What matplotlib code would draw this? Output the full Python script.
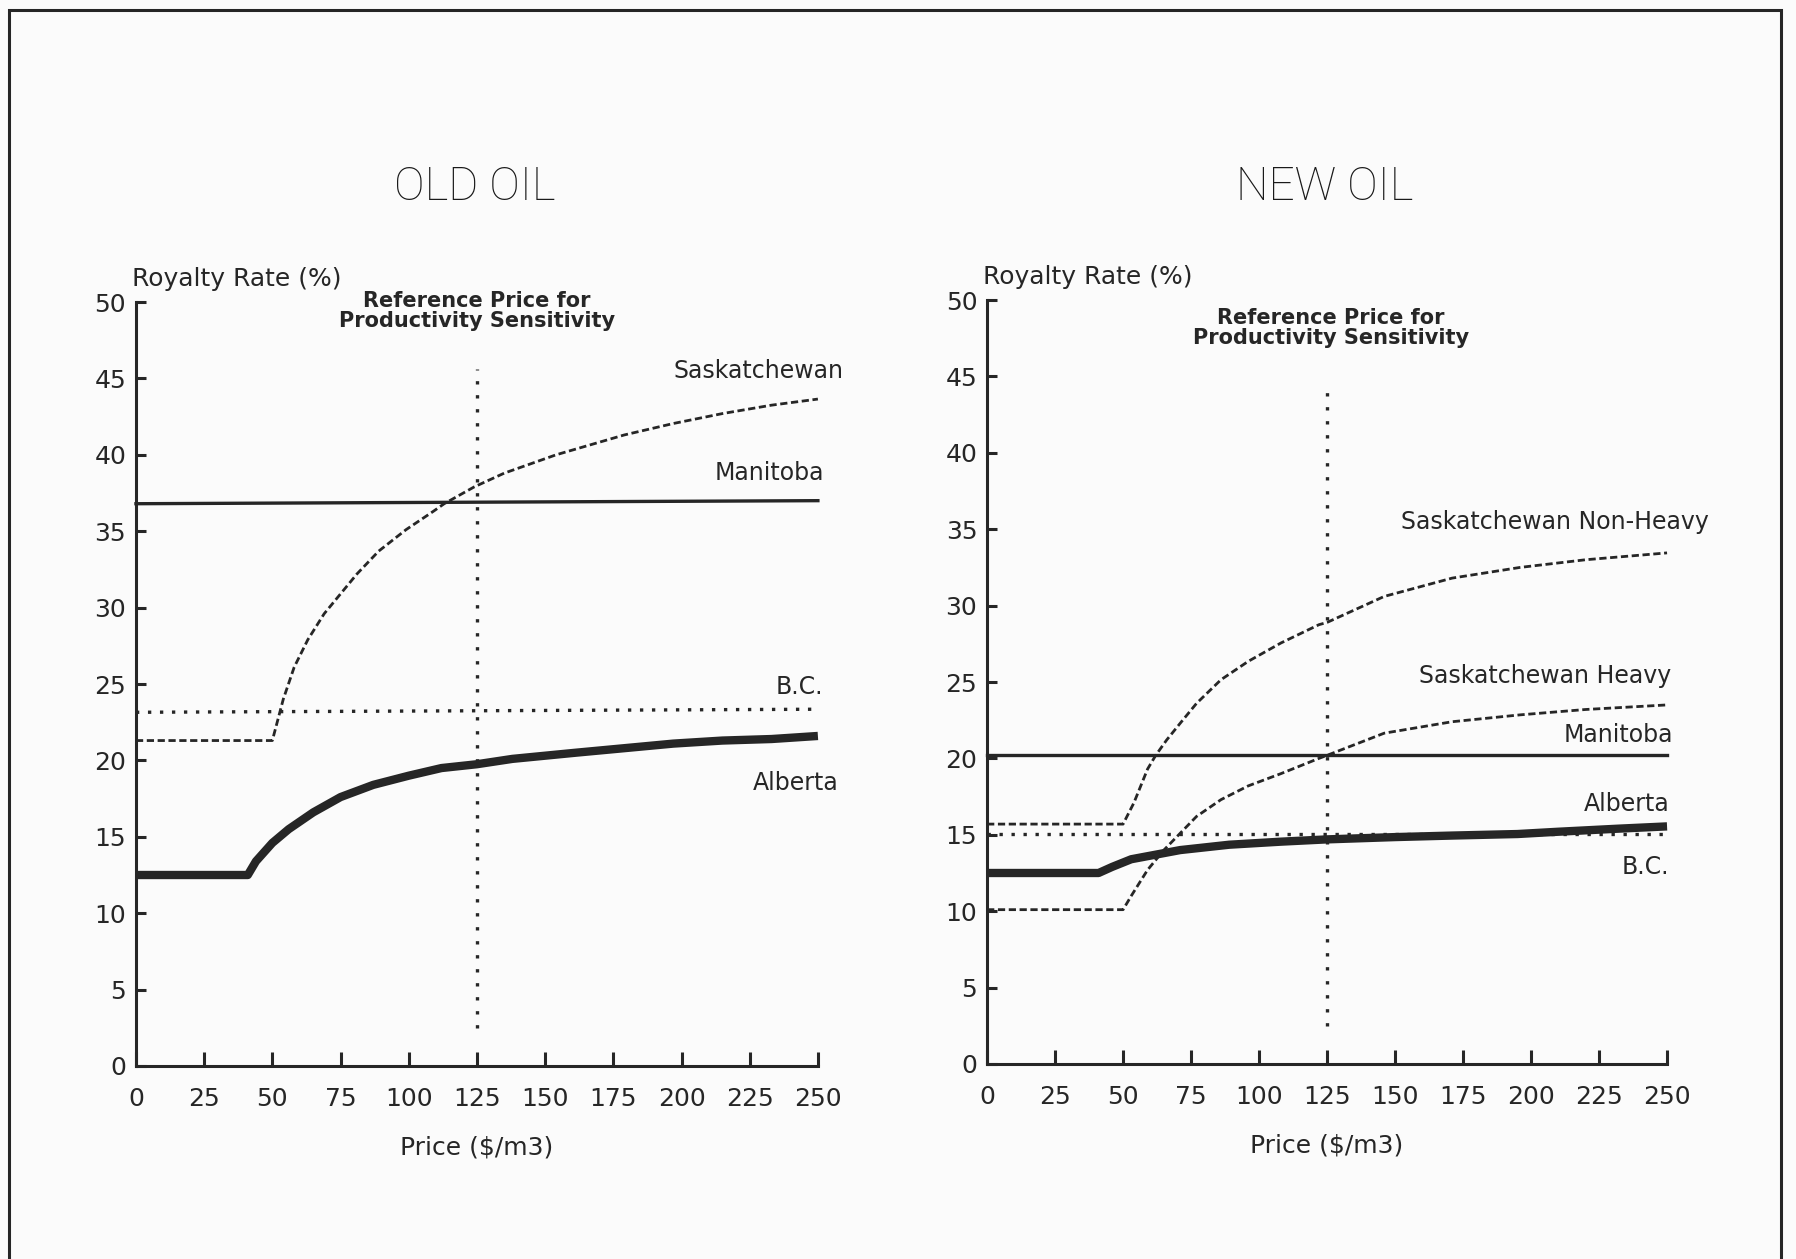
import numpy as np
import matplotlib.pyplot as plt
from matplotlib.patches import Rectangle

# ---- data ----
price_ticks = [0, 25, 50, 75, 100, 125, 150, 175, 200, 225, 250]
rate_ticks = [0, 5, 10, 15, 20, 25, 30, 35, 40, 45, 50]
ref_price = 125

# OLD OIL
old_sask_x = [0, 50, 54, 58, 63, 69, 75, 81, 89, 99, 109, 113, 124, 135, 154, 179, 197, 215, 233, 250]
old_sask_y = [21.3, 21.3, 24.0, 26.1, 27.9, 29.6, 30.9, 32.2, 33.7, 35.1, 36.3, 36.8, 37.9, 38.8, 40.0, 41.3, 42.05, 42.7, 43.25, 43.65]
old_man_x = [0, 250]
old_man_y = [36.8, 37.0]
old_bc_x = [0, 250]
old_bc_y = [23.15, 23.35]
old_alb_x = [0, 41, 44, 50, 56, 65, 75, 87, 100, 112, 125, 138, 161, 179, 197, 215, 233, 250]
old_alb_y = [12.5, 12.5, 13.4, 14.6, 15.5, 16.6, 17.6, 18.4, 19.0, 19.5, 19.75, 20.1, 20.5, 20.8, 21.1, 21.3, 21.4, 21.6]
old_ref_span = [2.5, 45.6]

# NEW OIL
new_nh_x = [0, 50, 54, 59, 62, 66, 71, 77, 86, 96, 108, 122, 125, 146, 171, 196, 220, 250]
new_nh_y = [15.7, 15.7, 17.1, 19.3, 20.2, 21.2, 22.3, 23.6, 25.15, 26.35, 27.55, 28.75, 28.9, 30.6, 31.8, 32.5, 33.0, 33.45]
new_hv_x = [0, 50, 53, 59, 65, 71, 77, 86, 96, 108, 122, 125, 146, 171, 196, 220, 250]
new_hv_y = [10.1, 10.1, 11.0, 12.7, 14.0, 15.1, 16.2, 17.3, 18.2, 19.0, 20.0, 20.2, 21.65, 22.4, 22.85, 23.2, 23.5]
new_man_x = [0, 250]
new_man_y = [20.2, 20.2]
new_bc_x = [0, 250]
new_bc_y = [15.05, 15.05]
new_alb_x = [0, 41, 46, 53, 62, 71, 89, 108, 125, 150, 171, 195, 210, 232, 250]
new_alb_y = [12.5, 12.5, 12.9, 13.4, 13.7, 14.0, 14.35, 14.55, 14.7, 14.85, 14.95, 15.05, 15.2, 15.4, 15.55]
new_ref_span = [2.5, 44.3]

INK = '#262626'
plt.rcParams['font.family'] = ['DejaVu Sans']

fig = plt.figure(figsize=(17.96, 12.59), dpi=100)
fig.patch.set_facecolor('#fbfbfb')

# frame of the scanned page (bottom edge runs off the page)
fig.patches.append(Rectangle((0.005, -0.05), 0.9866, 1.042, transform=fig.transFigure,
                             fill=False, edgecolor=INK, linewidth=2.2))

ax1 = fig.add_axes([0.0757, 0.1533, 0.3797, 0.6068])
ax2 = fig.add_axes([0.5496, 0.1549, 0.3786, 0.6068])

dash = (0, (2.6, 1.3))
dots = (0, (1, 2.6))
refdots = (0, (1, 3.2))


def style_axes(ax):
    ax.set_facecolor('none')
    ax.set_xlim(0, 250)
    ax.set_ylim(0, 50)
    for s in ['top', 'right']:
        ax.spines[s].set_visible(False)
    for s in ['left', 'bottom']:
        ax.spines[s].set_color(INK)
        ax.spines[s].set_linewidth(2.2)
    ax.set_xticks(price_ticks)
    ax.set_yticks(rate_ticks)
    ax.tick_params(axis='x', direction='in', length=10, width=2.2, color=INK,
                   labelsize=18, labelcolor=INK, pad=15)
    ax.tick_params(axis='y', direction='in', length=7, width=2.2, color=INK,
                   labelsize=18, labelcolor=INK, pad=7)
    ax.set_xlabel('Price ($/m3)', fontsize=18, color=INK, labelpad=18)
    ax.text(-1.5, 51.5, 'Royalty Rate (%)', fontsize=18, color=INK,
            ha='left', va='center', clip_on=False)


# ---- OLD OIL ----
style_axes(ax1)
ax1.plot(old_sask_x, old_sask_y, color=INK, lw=2.0, linestyle=dash, clip_on=False)
ax1.plot(old_man_x, old_man_y, color=INK, lw=2.4, clip_on=False)
ax1.plot(old_bc_x, old_bc_y, color=INK, lw=2.4, linestyle=dots, clip_on=False)
ax1.plot(old_alb_x, old_alb_y, color=INK, lw=6, solid_capstyle='butt', clip_on=False)
ax1.plot([ref_price, ref_price], old_ref_span, color=INK, lw=2.4, linestyle=refdots)
ax1.text(125, 49.4, 'Reference Price for\nProductivity Sensitivity', fontsize=15,
         fontweight='bold', color=INK, ha='center', va='center', linespacing=1.0)
ax1.text(259.5, 45.5, 'Saskatchewan', fontsize=17, color=INK, ha='right', va='center', clip_on=False)
ax1.text(252.3, 38.8, 'Manitoba', fontsize=17, color=INK, ha='right', va='center', clip_on=False)
ax1.text(252, 24.8, 'B.C.', fontsize=17, color=INK, ha='right', va='center', clip_on=False)
ax1.text(257.7, 18.5, 'Alberta', fontsize=17, color=INK, ha='right', va='center', clip_on=False)

# ---- NEW OIL ----
style_axes(ax2)
ax2.plot(new_nh_x, new_nh_y, color=INK, lw=2.0, linestyle=dash, clip_on=False)
ax2.plot(new_hv_x, new_hv_y, color=INK, lw=2.0, linestyle=dash, clip_on=False)
ax2.plot(new_man_x, new_man_y, color=INK, lw=2.4, clip_on=False)
ax2.plot(new_bc_x, new_bc_y, color=INK, lw=2.4, linestyle=dots, clip_on=False)
ax2.plot(new_alb_x, new_alb_y, color=INK, lw=6, solid_capstyle='butt', clip_on=False)
ax2.plot([ref_price, ref_price], new_ref_span, color=INK, lw=2.4, linestyle=refdots)
ax2.text(126.5, 48.2, 'Reference Price for\nProductivity Sensitivity', fontsize=15,
         fontweight='bold', color=INK, ha='center', va='center', linespacing=1.0)
ax2.text(265.4, 35.5, 'Saskatchewan Non-Heavy', fontsize=17, color=INK, ha='right', va='center', clip_on=False)
ax2.text(251.5, 25.4, 'Saskatchewan Heavy', fontsize=17, color=INK, ha='right', va='center', clip_on=False)
ax2.text(252.4, 21.5, 'Manitoba', fontsize=17, color=INK, ha='right', va='center', clip_on=False)
ax2.text(250.8, 17.0, 'Alberta', fontsize=17, color=INK, ha='right', va='center', clip_on=False)
ax2.text(250.8, 12.9, 'B.C.', fontsize=17, color=INK, ha='right', va='center', clip_on=False)

# panel titles
fig.text(0.2645, 0.8515, 'OLD OIL', fontsize=33, color='#1a1a1a', ha='center', va='center',
         family=['Roboto', 'DejaVu Sans'], fontweight='light')
fig.text(0.7378, 0.8515, 'NEW OIL', fontsize=33, color='#1a1a1a', ha='center', va='center',
         family=['Roboto', 'DejaVu Sans'], fontweight='light')

fig.savefig('out.png', dpi=100, facecolor=fig.get_facecolor())
